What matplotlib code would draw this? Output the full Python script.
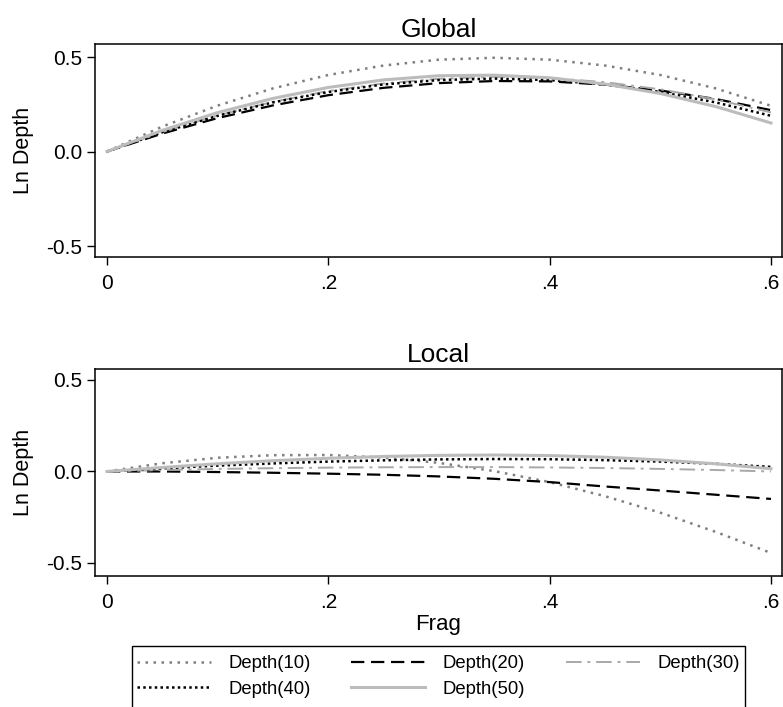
import matplotlib
matplotlib.use("Agg")
import matplotlib.pyplot as plt
from matplotlib.patches import Rectangle

plt.rcParams['font.family'] = ['Liberation Sans', 'DejaVu Sans']

# values (Frag on x, Ln Depth on y)
frag = [0, 0.05, 0.1, 0.15, 0.2, 0.25, 0.3, 0.35, 0.4, 0.45, 0.5, 0.55, 0.6]

global_d10 = [0, 0.132, 0.243, 0.334, 0.405, 0.455, 0.486, 0.496, 0.486, 0.455, 0.405, 0.334, 0.242]
global_d20 = [0, 0.095, 0.177, 0.244, 0.298, 0.337, 0.362, 0.373, 0.371, 0.354, 0.323, 0.278, 0.219]
global_d30 = [0, 0.103, 0.191, 0.263, 0.320, 0.360, 0.385, 0.395, 0.389, 0.367, 0.329, 0.276, 0.207]
global_d40 = [0, 0.102, 0.189, 0.260, 0.315, 0.355, 0.378, 0.386, 0.378, 0.355, 0.315, 0.260, 0.189]
global_d50 = [0, 0.112, 0.206, 0.281, 0.339, 0.379, 0.401, 0.404, 0.390, 0.357, 0.307, 0.238, 0.151]

local_d10 = [0, 0.045, 0.075, 0.089, 0.090, 0.076, 0.047, 0.002, -0.058, -0.135, -0.225, -0.330, -0.445]
local_d20 = [0, 0.0, -0.003, -0.007, -0.012, -0.018, -0.027, -0.040, -0.058, -0.082, -0.104, -0.127, -0.150]
local_d30 = [0, 0.008, 0.014, 0.018, 0.021, 0.023, 0.024, 0.024, 0.022, 0.019, 0.014, 0.008, 0.0]
local_d40 = [0, 0.017, 0.032, 0.044, 0.054, 0.061, 0.066, 0.068, 0.067, 0.062, 0.054, 0.042, 0.025]
local_d50 = [0, 0.022, 0.042, 0.059, 0.072, 0.082, 0.088, 0.090, 0.087, 0.078, 0.063, 0.042, 0.015]

series_labels = ['Depth(10)', 'Depth(20)', 'Depth(30)', 'Depth(40)', 'Depth(50)']
x_ticks = [0, 0.2, 0.4, 0.6]
x_ticklabels = ['0', '.2', '.4', '.6']
y_ticks = [-0.5, 0, 0.5]
y_ticklabels = ['-0.5', '0.0', '0.5']

styles = [
    dict(color='#7f7f7f', lw=1.8, ls=(0, (1, 2.2))),
    dict(color='black', lw=1.6, ls=(0, (6, 3))),
    dict(color='#a8a8a8', lw=1.4, ls=(0, (8, 3, 1.5, 3))),
    dict(color='black', lw=1.8, ls=(0, (1, 1.3))),
    dict(color='#bcbcbc', lw=2.2, ls='-'),
]

fig = plt.figure(figsize=(7.83, 7.07), dpi=100)
ax_top = fig.add_axes([0.1213, 0.6365, 0.8774, 0.3013])
ax_bot = fig.add_axes([0.1213, 0.1853, 0.8774, 0.2928])

panels = [
    (ax_top, 'Global', [global_d10, global_d20, global_d30, global_d40, global_d50], (-0.558, 0.569)),
    (ax_bot, 'Local', [local_d10, local_d20, local_d30, local_d40, local_d50], (-0.571, 0.56)),
]

handles = []
for ax, title, data, ylim in panels:
    handles = []
    for vals, st, lab in zip(data, styles, series_labels):
        h, = ax.plot(frag, vals, label=lab, **st)
        handles.append(h)
    ax.set_xlim(-0.01084, 0.60994)
    ax.set_ylim(*ylim)
    ax.set_xticks(x_ticks)
    ax.set_xticklabels(x_ticklabels)
    ax.set_yticks(y_ticks)
    ax.set_yticklabels(y_ticklabels)
    ax.tick_params(direction='out', length=6, width=1, labelsize=15)
    ax.tick_params(axis='x', pad=6)
    ax.tick_params(axis='y', pad=3)
    ax.set_ylabel('Ln Depth', fontsize=15.5, labelpad=9)
    ax.set_title(title, fontsize=19, pad=5)
    for sp in ax.spines.values():
        sp.set_linewidth(1.1)

ax_bot.set_xlabel('Frag', fontsize=16, labelpad=2)

# matplotlib fills legend columns first, so reorder to read across rows
order = [0, 3, 1, 4, 2]
leg = fig.legend([handles[i] for i in order], [series_labels[i] for i in order],
                 ncol=3, loc='upper center', bbox_to_anchor=(438.5 / 783, 1 - 646 / 707),
                 fontsize=13.3, frameon=False, borderaxespad=0, borderpad=0.5,
                 handlelength=4.0, columnspacing=2.2, handletextpad=0.95, labelspacing=0.45)

# legend box runs off the bottom of the picture in the reference
fig.patches.append(Rectangle((132 / 783, -0.02), 613 / 783, 1 - 646 / 707 + 0.02,
                             transform=fig.transFigure, fill=False,
                             edgecolor='black', linewidth=1.0))

fig.savefig('out.png', dpi=100)
